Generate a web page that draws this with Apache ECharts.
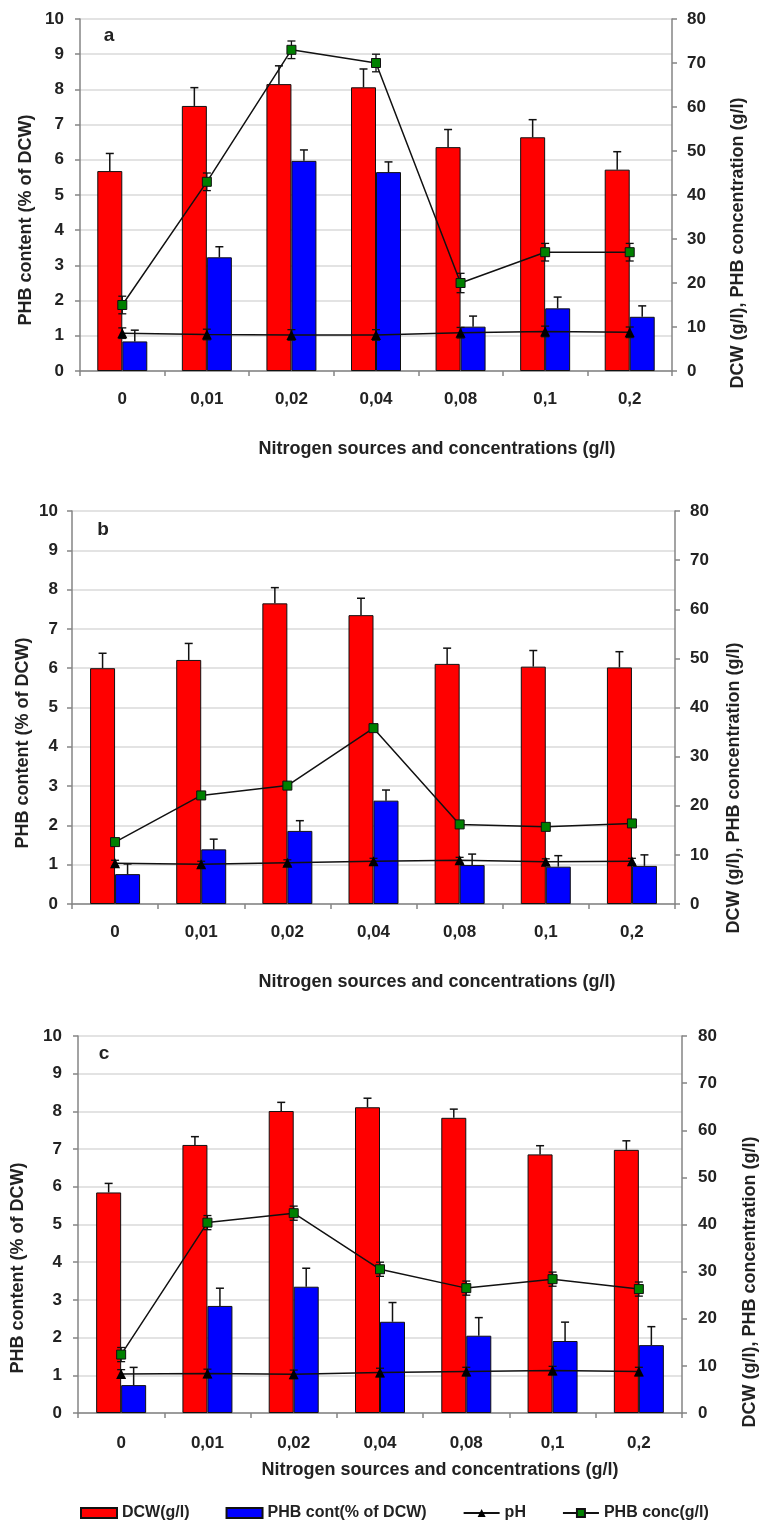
<!DOCTYPE html>
<html>
<head>
<meta charset="utf-8">
<script src="https://cdn.jsdelivr.net/npm/echarts/dist/echarts.min.js"></script>
<style>
html,body{margin:0;padding:0;background:#fff;}
#chart{width:759px;height:1525px;}
</style>
</head>
<body>
<div id="chart"></div>
<script>
// ---------- DATA ----------
const categories = ['0', '0,01', '0,02', '0,04', '0,08', '0,1', '0,2'];
const leftAxisMax = 10, leftAxisStep = 1;
const rightAxisMax = 80, rightAxisStep = 10;
const panelLetters = ['a', 'b', 'c'];
const seriesNames = ['DCW(g/l)', 'PHB cont(% of DCW)', 'pH', 'PHB conc(g/l)'];
const xTitle = 'Nitrogen sources and concentrations (g/l)';
const leftTitle = 'PHB content (% of DCW)';
const rightTitle = 'DCW (g/l), PHB concentration (g/l)';

// Panel a
const dcwA = [5.68, 7.53, 8.15, 8.06, 6.36, 6.64, 5.72];
const dcwErrA = [0.50, 0.52, 0.52, 0.52, 0.50, 0.50, 0.51];
const phbContA = [0.84, 3.23, 5.97, 5.65, 1.26, 1.78, 1.54];
const phbContErrA = [0.32, 0.30, 0.31, 0.29, 0.30, 0.32, 0.31];
const phA = [8.6, 8.3, 8.2, 8.2, 8.7, 9.0, 8.8];
const phErrA = [1.2, 1.2, 1.2, 1.2, 1.2, 1.2, 1.2];
const phbConcA = [15, 43, 73, 70, 20, 27, 27];
const phbConcErrA = [2.0, 2.0, 2.0, 2.0, 2.2, 2.0, 2.0];

// Panel b
const dcwB = [6.00, 6.21, 7.65, 7.35, 6.11, 6.04, 6.02];
const dcwErrB = [0.38, 0.42, 0.40, 0.43, 0.40, 0.41, 0.40];
const phbContB = [0.76, 1.39, 1.86, 2.63, 0.99, 0.95, 0.97];
const phbContErrB = [0.26, 0.26, 0.26, 0.27, 0.28, 0.28, 0.28];
const phB = [8.3, 8.1, 8.4, 8.7, 8.9, 8.6, 8.7];
const phErrB = [0.6, 0.6, 0.6, 0.6, 0.6, 0.6, 0.6];
const phbConcB = [12.6, 22.1, 24.1, 35.8, 16.2, 15.7, 16.4];
const phbConcErrB = [0.4, 0.4, 0.4, 0.4, 0.4, 0.4, 0.4];

// Panel c
const dcwC = [5.85, 7.11, 8.01, 8.11, 7.83, 6.86, 6.98];
const dcwErrC = [0.24, 0.22, 0.23, 0.24, 0.23, 0.23, 0.24];
const phbContC = [0.74, 2.84, 3.35, 2.42, 2.05, 1.91, 1.80];
const phbContErrC = [0.47, 0.47, 0.49, 0.51, 0.48, 0.50, 0.49];
const phC = [8.3, 8.4, 8.2, 8.6, 8.8, 9.0, 8.8];
const phErrC = [0.9, 0.9, 0.9, 0.9, 0.9, 0.9, 0.9];
const phbConcC = [12.4, 40.4, 42.4, 30.5, 26.5, 28.4, 26.3];
const phbConcErrC = [1.5, 1.5, 1.5, 1.5, 1.5, 1.5, 1.5];

const panels = [
  {dcw: dcwA, dcwErr: dcwErrA, cont: phbContA, contErr: phbContErrA, ph: phA, phErr: phErrA, conc: phbConcA, concErr: phbConcErrA},
  {dcw: dcwB, dcwErr: dcwErrB, cont: phbContB, contErr: phbContErrB, ph: phB, phErr: phErrB, conc: phbConcB, concErr: phbConcErrB},
  {dcw: dcwC, dcwErr: dcwErrC, cont: phbContC, contErr: phbContErrC, ph: phC, phErr: phErrC, conc: phbConcC, concErr: phbConcErrC}
];

// ---------- LAYOUT / STYLE ----------
const FONT = '"Liberation Sans", Arial, sans-serif';
const TXT = '#222';
const AXIS = '#858585';
const GRIDC = '#dadada';
const BAR_W = 25;

const layout = [
  {left: 80, top: 19, width: 592, height: 352, xMargin: 20, lMargin: 16, rMargin: 15,
   letter: [109, 36], xt: [437, 449], lt: [26, 220], rt: [738, 243]},
  {left: 72, top: 511, width: 603, height: 393, xMargin: 20, lMargin: 14, rMargin: 15,
   letter: [103, 530], xt: [437, 982], lt: [23, 743], rt: [734, 788]},
  {left: 78, top: 1036, width: 604, height: 377, xMargin: 22, lMargin: 16, rMargin: 16,
   letter: [104, 1054], xt: [440, 1470], lt: [18, 1268], rt: [750, 1282]}
];

function barErr(offset) {
  return function (params, api) {
    const x = api.value(0), v = api.value(1), e = api.value(2);
    const p0 = api.coord([x, v]);
    const p1 = api.coord([x, v + e]);
    const cx = p0[0] + offset;
    const st = {stroke: '#111', lineWidth: 1.5};
    return {type: 'group', children: [
      {type: 'line', shape: {x1: cx, y1: p0[1], x2: cx, y2: p1[1]}, style: st},
      {type: 'line', shape: {x1: cx - 4, y1: p1[1], x2: cx + 4, y2: p1[1]}, style: st}
    ]};
  };
}
function symErr(params, api) {
  const x = api.value(0), v = api.value(1), e = api.value(2);
  const pl = api.coord([x, v - e]);
  const ph = api.coord([x, v + e]);
  const cx = pl[0];
  const st = {stroke: '#111', lineWidth: 1.3};
  return {type: 'group', children: [
    {type: 'line', shape: {x1: cx, y1: pl[1], x2: cx, y2: ph[1]}, style: st},
    {type: 'line', shape: {x1: cx - 4, y1: pl[1], x2: cx + 4, y2: pl[1]}, style: st},
    {type: 'line', shape: {x1: cx - 4, y1: ph[1], x2: cx + 4, y2: ph[1]}, style: st}
  ]};
}

const grid = [], xAxis = [], yAxis = [], series = [], graphic = [];
const labelStyle = {color: TXT, fontWeight: 'bold', fontSize: 17, fontFamily: FONT};

layout.forEach((L, i) => {
  const P = panels[i];
  grid.push({left: L.left, top: L.top, width: L.width, height: L.height, containLabel: false});
  xAxis.push({
    gridIndex: i, type: 'category', data: categories,
    axisLine: {lineStyle: {color: AXIS, width: 1.5}},
    axisTick: {show: true, length: 5, lineStyle: {color: AXIS, width: 1.5}},
    axisLabel: Object.assign({margin: L.xMargin}, labelStyle),
    splitLine: {show: false}
  });
  yAxis.push({
    gridIndex: i, type: 'value', position: 'left', min: 0, max: leftAxisMax, interval: leftAxisStep,
    axisLine: {show: true, lineStyle: {color: AXIS, width: 1.5}},
    axisTick: {show: true, length: 5, lineStyle: {color: AXIS, width: 1.5}},
    axisLabel: Object.assign({margin: L.lMargin}, labelStyle),
    splitLine: {show: true, lineStyle: {color: GRIDC, width: 1.5}}
  });
  yAxis.push({
    gridIndex: i, type: 'value', position: 'right', min: 0, max: rightAxisMax, interval: rightAxisStep,
    axisLine: {show: true, lineStyle: {color: AXIS, width: 1.5}},
    axisTick: {show: true, length: 5, lineStyle: {color: AXIS, width: 1.5}},
    axisLabel: Object.assign({margin: L.rMargin}, labelStyle),
    splitLine: {show: false}
  });
  const yl = i * 2, yr = i * 2 + 1;
  series.push({
    name: seriesNames[0], type: 'bar', xAxisIndex: i, yAxisIndex: yl, data: P.dcw,
    barWidth: BAR_W, barGap: '0%', z: 2,
    itemStyle: {color: '#ff0000', borderColor: '#111', borderWidth: 1}
  });
  series.push({
    name: seriesNames[1], type: 'bar', xAxisIndex: i, yAxisIndex: yl, data: P.cont,
    barWidth: BAR_W, barGap: '0%', z: 2,
    itemStyle: {color: '#0000ff', borderColor: '#111', borderWidth: 1}
  });
  series.push({
    name: 'dcwErr' + i, type: 'custom', xAxisIndex: i, yAxisIndex: yl, silent: true, z: 3,
    renderItem: barErr(-BAR_W / 2), encode: {x: 0, y: 1},
    data: P.dcw.map((v, k) => [k, v, P.dcwErr[k]])
  });
  series.push({
    name: 'contErr' + i, type: 'custom', xAxisIndex: i, yAxisIndex: yl, silent: true, z: 3,
    renderItem: barErr(BAR_W / 2), encode: {x: 0, y: 1},
    data: P.cont.map((v, k) => [k, v, P.contErr[k]])
  });
  series.push({
    name: 'phErr' + i, type: 'custom', xAxisIndex: i, yAxisIndex: yr, silent: true, z: 4,
    renderItem: symErr, encode: {x: 0, y: 1},
    data: P.ph.map((v, k) => [k, v, P.phErr[k]])
  });
  series.push({
    name: 'concErr' + i, type: 'custom', xAxisIndex: i, yAxisIndex: yr, silent: true, z: 4,
    renderItem: symErr, encode: {x: 0, y: 1},
    data: P.conc.map((v, k) => [k, v, P.concErr[k]])
  });
  series.push({
    name: seriesNames[2], type: 'line', xAxisIndex: i, yAxisIndex: yr, data: P.ph, z: 5,
    symbol: 'triangle', symbolSize: 10, showAllSymbol: true,
    lineStyle: {color: '#111', width: 1.5},
    itemStyle: {color: '#000', borderColor: '#000', borderWidth: 0}
  });
  series.push({
    name: seriesNames[3], type: 'line', xAxisIndex: i, yAxisIndex: yr, data: P.conc, z: 5,
    symbol: 'rect', symbolSize: 9, showAllSymbol: true,
    lineStyle: {color: '#111', width: 1.5},
    itemStyle: {color: '#008000', borderColor: '#111', borderWidth: 1}
  });

  const tf = {fill: TXT, fontWeight: 'bold', fontFamily: FONT, align: 'center', verticalAlign: 'middle'};
  graphic.push({type: 'text', x: L.letter[0], y: L.letter[1], z: 10,
    style: Object.assign({text: panelLetters[i], fontSize: 19}, tf)});
  graphic.push({type: 'text', x: L.xt[0], y: L.xt[1], z: 10,
    style: Object.assign({text: xTitle, fontSize: 18}, tf)});
  graphic.push({type: 'text', x: L.lt[0], y: L.lt[1], rotation: Math.PI / 2, z: 10,
    style: Object.assign({text: leftTitle, fontSize: 18}, tf)});
  graphic.push({type: 'text', x: L.rt[0], y: L.rt[1], rotation: Math.PI / 2, z: 10,
    style: Object.assign({text: rightTitle, fontSize: 18}, tf)});
});

const chart = echarts.init(document.getElementById('chart'), null, {renderer: 'canvas'});
chart.setOption({
  animation: false,
  backgroundColor: '#fff',
  grid: grid,
  xAxis: xAxis,
  yAxis: yAxis,
  legend: {
    left: 75, top: 1500, itemWidth: 36, itemHeight: 10, itemGap: 36,
    textStyle: {color: TXT, fontWeight: 'bold', fontSize: 16, fontFamily: FONT},
    data: [
      {name: seriesNames[0], icon: 'rect'},
      {name: seriesNames[1], icon: 'rect'},
      {name: seriesNames[2]},
      {name: seriesNames[3]}
    ]
  },
  graphic: graphic,
  series: series
});
</script>
</body>
</html>
